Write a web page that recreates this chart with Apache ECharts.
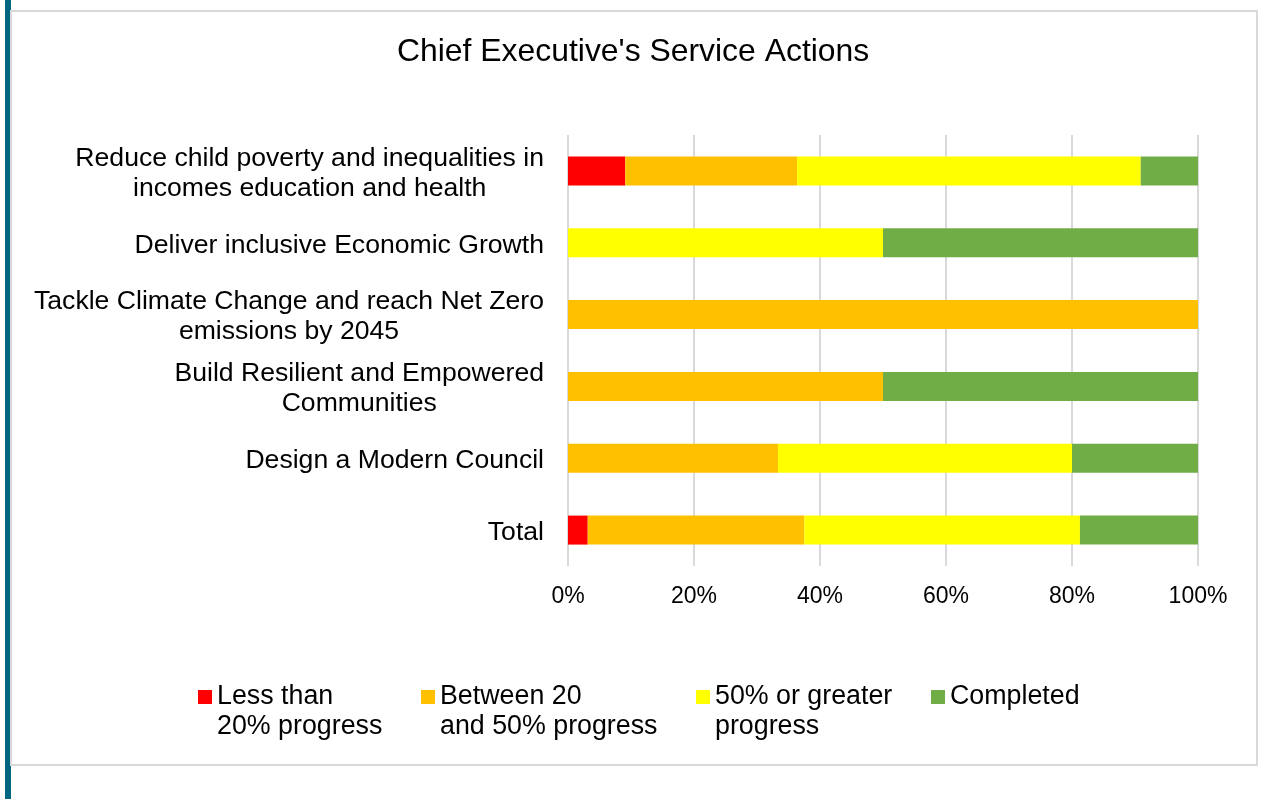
<!DOCTYPE html>
<html>
<head>
<meta charset="utf-8">
<script src="https://cdn.jsdelivr.net/npm/echarts@6/dist/echarts.min.js"></script>
<style>
html,body{margin:0;padding:0;background:#fff;}
#chart{width:1261px;height:799px;}
</style>
</head>
<body>
<div id="chart"></div>
<script>
var categories = [
  'Reduce child poverty and inequalities in\nincomes education and health',
  'Deliver inclusive Economic Growth',
  'Tackle Climate Change and reach Net Zero\nemissions by 2045',
  'Build Resilient and Empowered\nCommunities',
  'Design a Modern Council',
  'Total'
];
var seriesNames = ['Less than 20% progress', 'Between 20 and 50% progress', '50% or greater progress', 'Completed'];
var legendLabels = ['Less than\n20% progress', 'Between 20\nand 50% progress', '50% or greater\nprogress', 'Completed'];
var lessThan20 = [9.09, 0, 0, 0, 0, 3.13];
var between20and50 = [27.27, 0, 100, 50, 33.33, 34.38];
var fiftyOrGreater = [54.55, 50, 0, 0, 46.67, 43.75];
var completed = [9.09, 50, 0, 50, 20, 18.75];
var xTicks = [0, 20, 40, 60, 80, 100];

var colors = ['#ff0000', '#ffc000', '#ffff00', '#70ad47'];
var values = [lessThan20, between20and50, fiftyOrGreater, completed];
var legendLeft = [198, 421, 696, 931];

var chart = echarts.init(document.getElementById('chart'), null, {renderer: 'canvas'});
var fontFam = '"Liberation Sans", Arial, sans-serif';

var legends = seriesNames.map(function (n, i) {
  var lines = legendLabels[i].split('\n');
  var txt = ' \n' + legendLabels[i] + (lines.length === 1 ? '\n ' : '');
  return {
    data: [n],
    left: legendLeft[i],
    top: 650,
    padding: 0,
    itemWidth: 14,
    itemHeight: 14,
    icon: 'rect',
    selectedMode: false,
    formatter: function () { return txt; },
    textStyle: {
      fontFamily: fontFam,
      fontSize: 26.8,
      color: '#000',
      lineHeight: 30,
      padding: [4, 0, 0, 0]
    }
  };
});

var option = {
  backgroundColor: '#fff',
  animation: false,
  title: {
    text: "Chief Executive's Service Actions",
    left: 397,
    top: 36,
    padding: 0,
    textStyle: {fontFamily: fontFam, fontSize: 31.9, fontWeight: 'normal', color: '#000'}
  },
  legend: legends,
  grid: {left: 568, right: 63, top: 135, height: 431, containLabel: false},
  xAxis: {
    type: 'value',
    min: xTicks[0],
    max: xTicks[xTicks.length - 1],
    interval: xTicks[1] - xTicks[0],
    axisLine: {show: false},
    axisTick: {show: false},
    splitLine: {show: true, lineStyle: {color: '#d9d9d9', width: 2}},
    axisLabel: {
      formatter: '{value}%',
      fontFamily: fontFam,
      fontSize: 23,
      color: '#000',
      margin: 19
    }
  },
  yAxis: {
    type: 'category',
    inverse: true,
    data: categories,
    axisLine: {show: false},
    axisTick: {show: false},
    axisLabel: {
      margin: 24,
      align: 'right',
      fontFamily: fontFam,
      fontSize: 26.6,
      lineHeight: 30,
      color: '#000',
      padding: [5, 0, 0, 0],
      formatter: function (v) {
        return v.split('\n').map(function (s) { return '{c|' + s + '}'; }).join('\n');
      },
      rich: {
        c: {align: 'center', fontFamily: fontFam, fontSize: 26.6, lineHeight: 30, color: '#000'}
      }
    }
  },
  graphic: [
    {type: 'rect', shape: {x: 5, y: 0, width: 6, height: 799}, style: {fill: '#006580'}, z: 100},
    {type: 'rect', shape: {x: 11, y: 11, width: 1246, height: 754}, style: {fill: 'none', stroke: '#d9d9d9', lineWidth: 2}, z: 100}
  ],
  series: seriesNames.map(function (n, i) {
    return {
      name: n,
      type: 'bar',
      stack: 'total',
      barWidth: 29,
      data: values[i],
      itemStyle: {color: colors[i]}
    };
  })
};
chart.setOption(option);
</script>
</body>
</html>
